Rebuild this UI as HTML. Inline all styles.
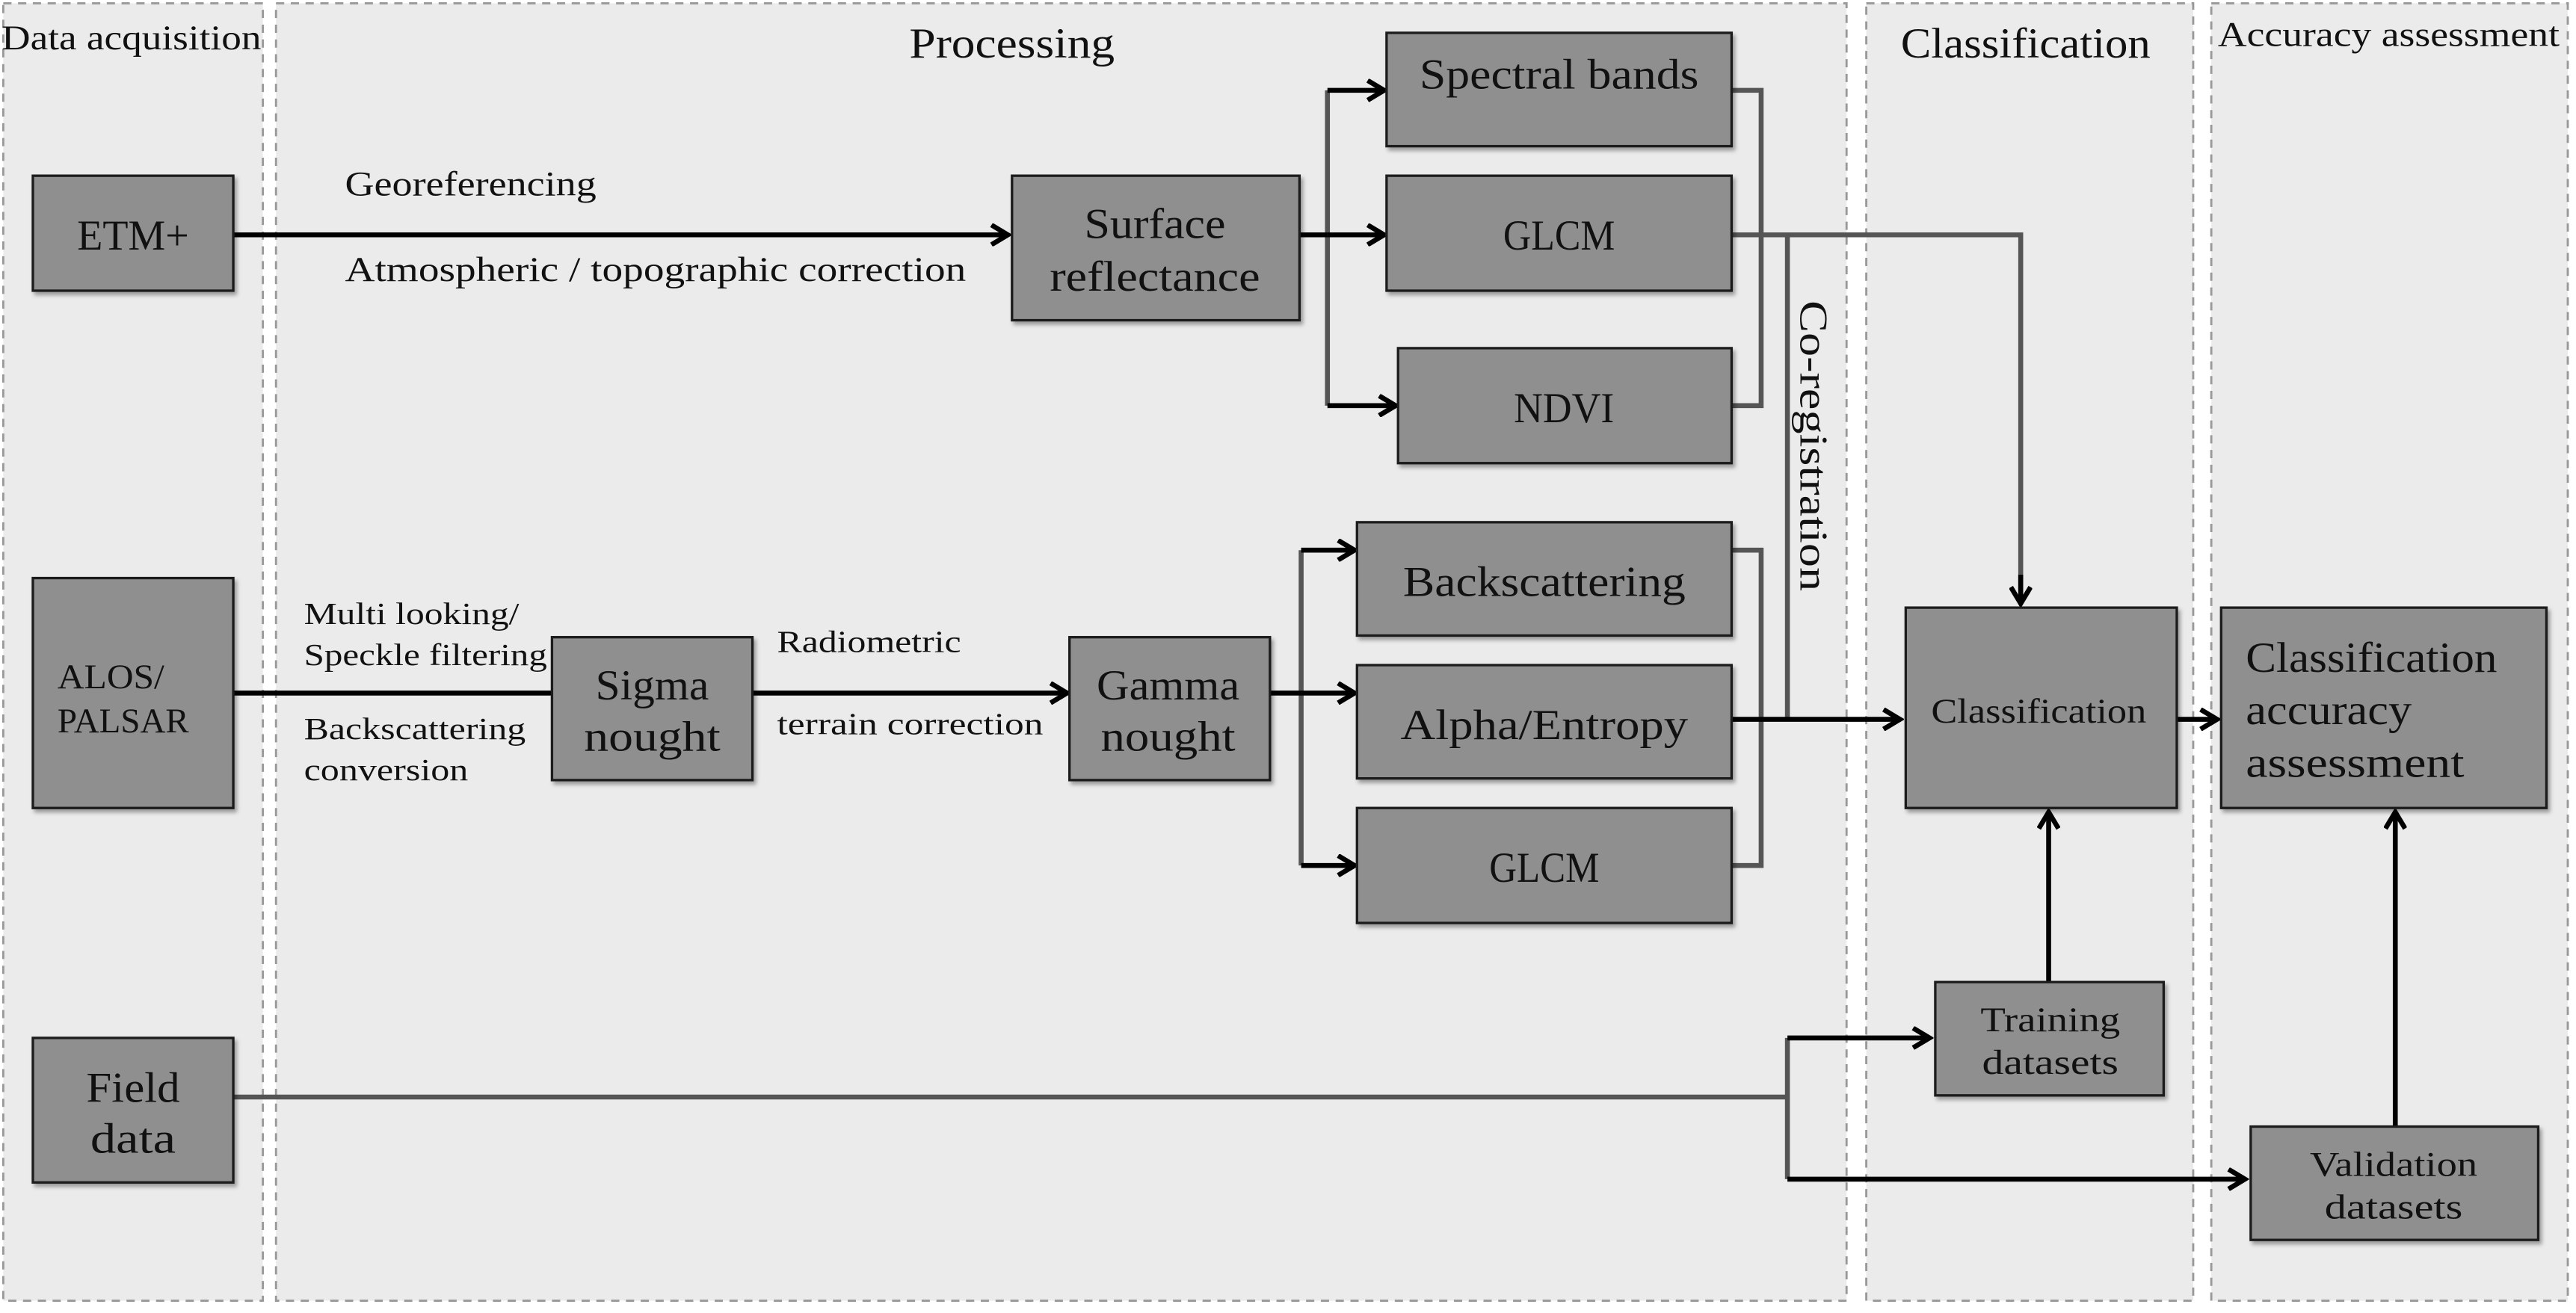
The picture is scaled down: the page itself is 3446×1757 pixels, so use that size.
<!DOCTYPE html>
<html><head><meta charset="utf-8"><style>
html,body{margin:0;padding:0;background:#fff;}
svg{display:block;}
text{font-family:"Liberation Serif",serif;fill:#111;}
</style></head><body>
<svg width="3446" height="1757" viewBox="0 0 1568 799.5" preserveAspectRatio="none" xmlns="http://www.w3.org/2000/svg">
<defs>
<marker id="a" markerWidth="14" markerHeight="14" refX="11" refY="7" orient="auto" markerUnits="userSpaceOnUse">
<path d="M1.5,1 L11.5,7 L1.5,13" fill="none" stroke="#000" stroke-width="3"/>
</marker>
<filter id="s" x="-5%" y="-5%" width="115%" height="125%"><feDropShadow dx="1.5" dy="2" stdDeviation="1.2" flood-color="#000" flood-opacity="0.35"/></filter>
</defs>
<rect width="1568" height="800" fill="#fff"/>
<g fill="#ebebeb" stroke="#999" stroke-dasharray="5,4" stroke-width="1.3">
<rect x="2" y="2" width="158" height="790"/>
<rect x="168" y="2" width="956" height="790"/>
<rect x="1136" y="2" width="199" height="790"/>
<rect x="1346" y="2" width="217" height="790"/>
</g>
<g font-size="21" text-anchor="middle" lengthAdjust="spacingAndGlyphs">
<text x="80" y="30" textLength="158" lengthAdjust="spacingAndGlyphs">Data acquisition</text>
<text x="616" y="35" font-size="26" textLength="125" lengthAdjust="spacingAndGlyphs">Processing</text>
<text x="1233" y="35" font-size="26" textLength="152" lengthAdjust="spacingAndGlyphs">Classification</text>
<text x="1454" y="28" textLength="208" lengthAdjust="spacingAndGlyphs">Accuracy assessment</text>
</g>
<g fill="none" stroke="#555" stroke-width="3">
<path d="M1054,55 H1072 V247 H1054"/>
<path d="M1054,335 H1072 V527 H1054"/>
<path d="M808,55 V247"/>
<path d="M792,335 V527"/>
<path d="M1054,143 H1230 V360"/>
<path d="M1088,143 V438"/>
<path d="M142,668 H1088"/>
<path d="M1088,632 V718"/>
</g>
<g fill="none" stroke="#000" stroke-width="3">
<path d="M142,143 H613" marker-end="url(#a)"/>
<path d="M791,143 H808"/>
<path d="M808,55 H842" marker-end="url(#a)"/>
<path d="M808,143 H842" marker-end="url(#a)"/>
<path d="M808,247 H849" marker-end="url(#a)"/>
<path d="M1230,350 V367" marker-end="url(#a)"/>
<path d="M142,422 H336"/>
<path d="M458,422 H649" marker-end="url(#a)"/>
<path d="M773,422 H792"/>
<path d="M792,335 H824" marker-end="url(#a)"/>
<path d="M792,422 H824" marker-end="url(#a)"/>
<path d="M792,527 H824" marker-end="url(#a)"/>
<path d="M1054,438 H1156" marker-end="url(#a)"/>
<path d="M1325,438 H1349" marker-end="url(#a)"/>
<path d="M1247,598 V495" marker-end="url(#a)"/>
<path d="M1458,686 V495" marker-end="url(#a)"/>
<path d="M1088,632 H1174" marker-end="url(#a)"/>
<path d="M1088,718 H1366" marker-end="url(#a)"/>
</g>
<g fill="#8f8f8f" stroke="#1a1a1a" stroke-width="1.5" filter="url(#s)">
<rect x="20" y="107" width="122" height="70"/>
<rect x="616" y="107" width="175" height="88"/>
<rect x="844" y="20" width="210" height="69"/>
<rect x="844" y="107" width="210" height="70"/>
<rect x="851" y="212" width="203" height="70"/>
<rect x="826" y="318" width="228" height="69"/>
<rect x="826" y="405" width="228" height="69"/>
<rect x="826" y="492" width="228" height="70"/>
<rect x="20" y="352" width="122" height="140"/>
<rect x="336" y="388" width="122" height="87"/>
<rect x="651" y="388" width="122" height="87"/>
<rect x="20" y="632" width="122" height="88"/>
<rect x="1160" y="370" width="165" height="122"/>
<rect x="1178" y="598" width="139" height="69"/>
<rect x="1352" y="370" width="198" height="122"/>
<rect x="1370" y="686" width="175" height="69"/>
</g>
<g font-size="26" text-anchor="middle">
<text x="81" y="152" textLength="68" lengthAdjust="spacingAndGlyphs">ETM+</text>
<text x="703" y="145" textLength="86" lengthAdjust="spacingAndGlyphs">Surface</text>
<text x="703" y="177" textLength="128" lengthAdjust="spacingAndGlyphs">reflectance</text>
<text x="949" y="54" textLength="170" lengthAdjust="spacingAndGlyphs">Spectral bands</text>
<text x="949" y="152" textLength="68" lengthAdjust="spacingAndGlyphs">GLCM</text>
<text x="952" y="257" textLength="61" lengthAdjust="spacingAndGlyphs">NDVI</text>
<text x="940" y="363" textLength="172" lengthAdjust="spacingAndGlyphs">Backscattering</text>
<text x="940" y="450" textLength="175" lengthAdjust="spacingAndGlyphs">Alpha/Entropy</text>
<text x="940" y="537" textLength="67" lengthAdjust="spacingAndGlyphs">GLCM</text>
<text x="397" y="426" textLength="69" lengthAdjust="spacingAndGlyphs">Sigma</text>
<text x="397" y="457" textLength="83" lengthAdjust="spacingAndGlyphs">nought</text>
<text x="711" y="426" textLength="87" lengthAdjust="spacingAndGlyphs">Gamma</text>
<text x="711" y="457" textLength="82" lengthAdjust="spacingAndGlyphs">nought</text>
<text x="81" y="671" textLength="57" lengthAdjust="spacingAndGlyphs">Field</text>
<text x="81" y="702" textLength="52" lengthAdjust="spacingAndGlyphs">data</text>
<text x="1241" y="440" font-size="21" textLength="131" lengthAdjust="spacingAndGlyphs">Classification</text>
<text x="1248" y="628" font-size="21" textLength="85" lengthAdjust="spacingAndGlyphs">Training</text>
<text x="1248" y="654" font-size="21" textLength="83" lengthAdjust="spacingAndGlyphs">datasets</text>
<text x="1457" y="716" font-size="21" textLength="102" lengthAdjust="spacingAndGlyphs">Validation</text>
<text x="1457" y="742" font-size="21" textLength="84" lengthAdjust="spacingAndGlyphs">datasets</text>
</g>
<g font-size="26">
<text x="1367" y="409" textLength="153" lengthAdjust="spacingAndGlyphs">Classification</text>
<text x="1367" y="441" textLength="101" lengthAdjust="spacingAndGlyphs">accuracy</text>
<text x="1367" y="473" textLength="133" lengthAdjust="spacingAndGlyphs">assessment</text>
</g>
<g font-size="21">
<text x="35" y="419" textLength="65" lengthAdjust="spacingAndGlyphs">ALOS/</text>
<text x="35" y="446" textLength="80" lengthAdjust="spacingAndGlyphs">PALSAR</text>
<text x="210" y="119" textLength="153" lengthAdjust="spacingAndGlyphs">Georeferencing</text>
<text x="210" y="171" textLength="378" lengthAdjust="spacingAndGlyphs">Atmospheric / topographic correction</text>
<text x="185" y="380" font-size="19" textLength="131" lengthAdjust="spacingAndGlyphs">Multi looking/</text>
<text x="185" y="405" font-size="19" textLength="148" lengthAdjust="spacingAndGlyphs">Speckle filtering</text>
<text x="185" y="450" font-size="19" textLength="135" lengthAdjust="spacingAndGlyphs">Backscattering</text>
<text x="185" y="475" font-size="19" textLength="100" lengthAdjust="spacingAndGlyphs">conversion</text>
<text x="473" y="397" font-size="19" textLength="112" lengthAdjust="spacingAndGlyphs">Radiometric</text>
<text x="473" y="447" font-size="19" textLength="162" lengthAdjust="spacingAndGlyphs">terrain correction</text>
<text transform="translate(1096,183) rotate(90)" font-size="24" textLength="177" lengthAdjust="spacingAndGlyphs">Co-registration</text>
</g>
</svg>
</body></html>
